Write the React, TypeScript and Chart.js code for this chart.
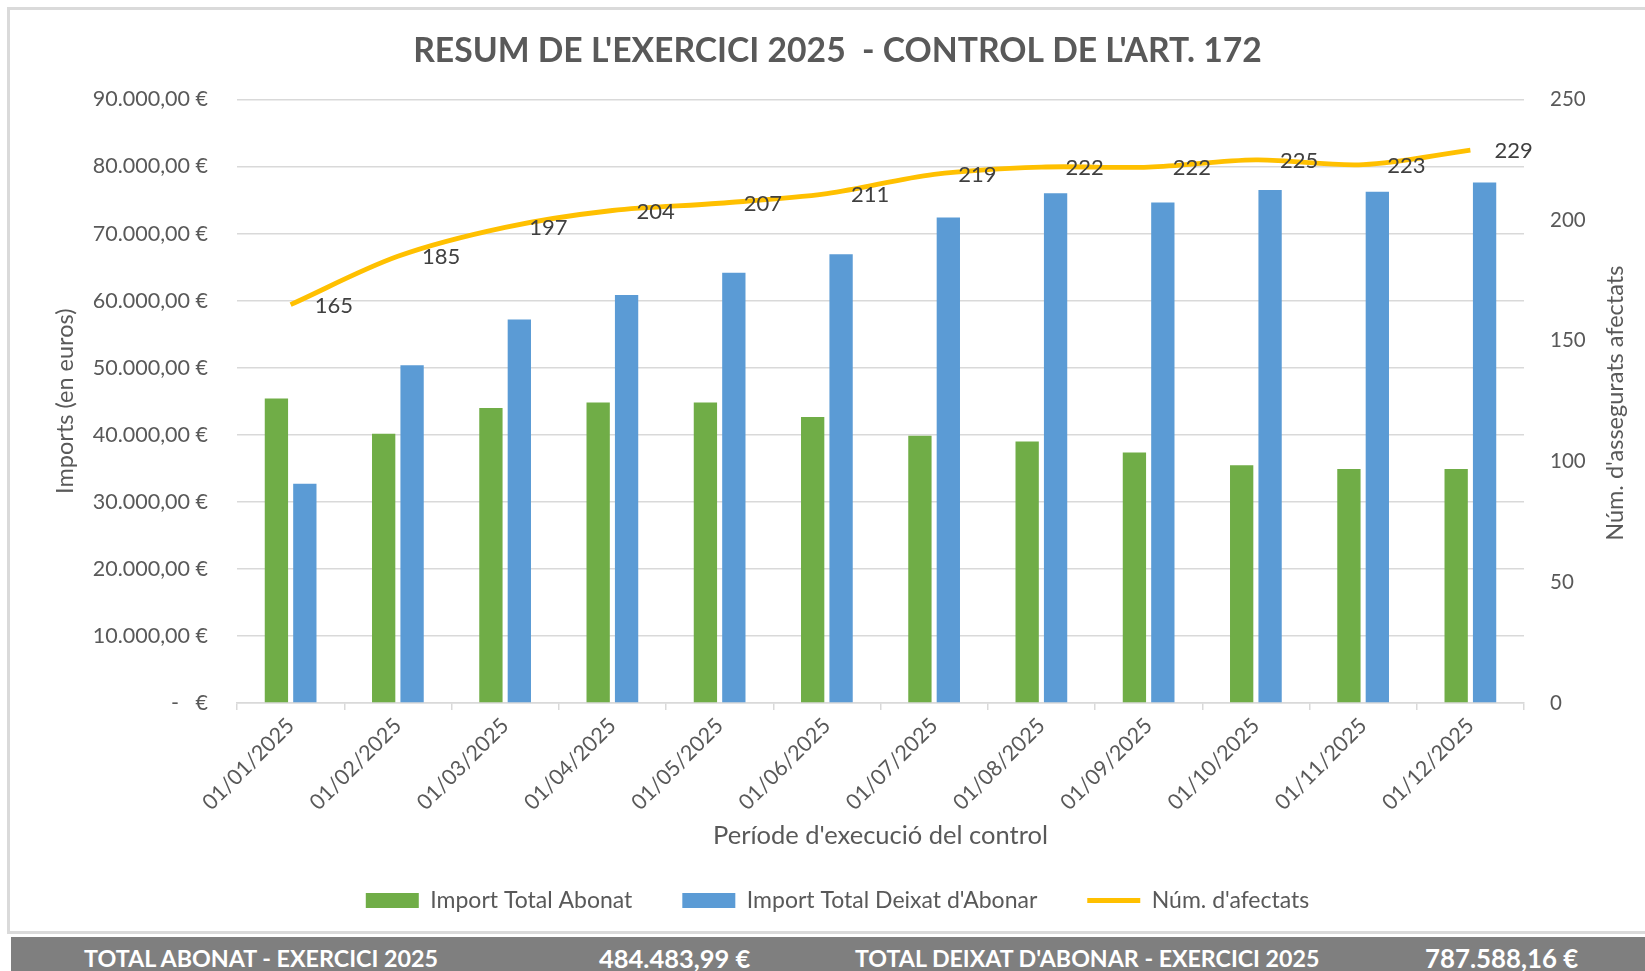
import React, { useEffect, useRef } from "react";
import { Chart, registerables } from "chart.js";

Chart.register(...registerables);

const categories = [
  "01/01/2025", "01/02/2025", "01/03/2025", "01/04/2025", "01/05/2025", "01/06/2025",
  "01/07/2025", "01/08/2025", "01/09/2025", "01/10/2025", "01/11/2025", "01/12/2025",
];
const importAbonat = [45400, 40150, 44000, 44800, 44800, 42650, 39850, 39000, 37350, 35450, 34900, 34900];
const importDeixat = [32700, 50350, 57200, 60850, 64150, 66900, 72400, 76000, 74650, 76500, 76250, 77600];
const numAfectats = [165, 185, 197, 204, 207, 211, 219, 222, 222, 225, 223, 229];

const seriesNames = ["Import Total Abonat", "Import Total Deixat d'Abonar", "Núm. d'afectats"];
const leftAxis = { min: 0, max: 90000, step: 10000 };
const rightAxis = { min: 0, max: 250, step: 50 };

const chartTitle = "RESUM DE L'EXERCICI 2025  - CONTROL DE L'ART. 172";
const leftTitle = "Imports (en euros)";
const rightTitle = "Núm. d'assegurats afectats";
const xTitle = "Període d'execució del control";

const footerItems = [
  "TOTAL ABONAT - EXERCICI 2025",
  "484.483,99 €",
  "TOTAL DEIXAT D'ABONAR - EXERCICI 2025",
  "787.588,16 €",
];

const GREEN = "#70AD47";
const BLUE = "#5B9BD5";
const YELLOW = "#FFC000";
const TEXT = "#595959";
const GRID = "#D9D9D9";
const FONT = "Lato, 'Open Sans', sans-serif";

function fmtEuro(v: number): string {
  if (v === 0) return "-   €";
  const s = Math.round(v).toString().replace(/\B(?=(\d{3})+(?!\d))/g, ".");
  return s + ",00 €";
}

const extrasPlugin = {
  id: "extras",
  afterDatasetsDraw(chart: any) {
    const ctx = chart.ctx;
    const meta = chart.getDatasetMeta(2);
    ctx.save();
    ctx.font = `22px ${FONT}`;
    ctx.fillStyle = "#404040";
    ctx.textAlign = "left";
    ctx.textBaseline = "middle";
    meta.data.forEach((pt: any, i: number) => {
      ctx.fillText(String(numAfectats[i]), pt.x + 24, pt.y + 1);
    });
    const s = chart.scales.y1;
    const ca = chart.chartArea;
    ctx.translate(s.right - 30, (ca.top + ca.bottom) / 2 + 2);
    ctx.rotate(-Math.PI / 2);
    ctx.textAlign = "center";
    ctx.fillStyle = TEXT;
    ctx.font = `23.5px ${FONT}`;
    ctx.fillText(rightTitle, 0, 0);
    ctx.restore();
  },
};

export default function App() {
  const ref = useRef<HTMLCanvasElement | null>(null);

  useEffect(() => {
    if (!ref.current) return;
    const chart = new Chart(ref.current, {
      type: "bar",
      data: {
        labels: categories,
        datasets: [
          {
            type: "bar",
            label: seriesNames[0],
            data: importAbonat,
            backgroundColor: GREEN,
            yAxisID: "y",
            order: 1,
            categoryPercentage: 0.53,
            barPercentage: 0.82,
          },
          {
            type: "bar",
            label: seriesNames[1],
            data: importDeixat,
            backgroundColor: BLUE,
            yAxisID: "y",
            order: 1,
            categoryPercentage: 0.53,
            barPercentage: 0.82,
          },
          {
            type: "line",
            label: seriesNames[2],
            data: numAfectats,
            borderColor: YELLOW,
            backgroundColor: YELLOW,
            borderWidth: 4.8,
            pointRadius: 0,
            tension: 0.33,
            yAxisID: "y1",
            order: 0,
          },
        ],
      } as any,
      options: {
        responsive: false,
        animation: false,
        layout: { padding: { left: 30, right: 0, top: 0, bottom: 8 } },
        plugins: {
          tooltip: { enabled: false },
          title: {
            display: true,
            text: chartTitle,
            color: TEXT,
            font: { family: FONT, size: 33.7, weight: "bold" },
            padding: { top: 31, bottom: 28 },
          },
          legend: {
            position: "bottom",
            labels: {
              usePointStyle: true,
              pointStyleWidth: 53,
              boxHeight: 15,
              padding: 50,
              color: TEXT,
              font: { family: FONT, size: 23 },
              generateLabels: () => [
                { text: seriesNames[0], fillStyle: GREEN, strokeStyle: GREEN, lineWidth: 0, pointStyle: "rect", datasetIndex: 0, fontColor: TEXT },
                { text: seriesNames[1], fillStyle: BLUE, strokeStyle: BLUE, lineWidth: 0, pointStyle: "rect", datasetIndex: 1, fontColor: TEXT },
                { text: seriesNames[2], fillStyle: YELLOW, strokeStyle: YELLOW, lineWidth: 4.8, pointStyle: "line", datasetIndex: 2, fontColor: TEXT },
              ] as any,
            },
          },
        },
        scales: {
          x: {
            offset: true,
            afterFit: (scale: any) => {
              scale.height = 136;
            },
            grid: {
              display: true,
              drawOnChartArea: false,
              drawTicks: true,
              tickLength: 7,
              offset: true,
              color: GRID,
              lineWidth: 1.5,
            },
            border: { display: true, color: GRID, width: 1.5 },
            ticks: {
              autoSkip: false,
              maxRotation: 45,
              minRotation: 45,
              padding: 3,
              color: TEXT,
              font: { family: FONT, size: 21.5 },
            },
            title: {
              display: true,
              text: xTitle,
              color: TEXT,
              font: { family: FONT, size: 25.5 },
              padding: { top: 0, bottom: -12 },
            },
          },
          y: {
            position: "left",
            min: leftAxis.min,
            max: leftAxis.max,
            afterFit: (scale: any) => {
              scale.width = 207;
            },
            grid: { color: GRID, lineWidth: 1.5, drawTicks: false },
            border: { display: false },
            ticks: {
              stepSize: leftAxis.step,
              padding: 29,
              color: TEXT,
              font: { family: FONT, size: 21.5 },
              callback: (v: any) => fmtEuro(Number(v)),
            },
            title: {
              display: true,
              text: leftTitle,
              color: TEXT,
              font: { family: FONT, size: 23.5 },
              padding: { top: 21, bottom: 0 },
            },
          },
          y1: {
            position: "right",
            min: rightAxis.min,
            max: rightAxis.max,
            afterFit: (scale: any) => {
              scale.width = 121;
            },
            grid: { display: false, drawOnChartArea: false, drawTicks: false },
            border: { display: false },
            ticks: {
              stepSize: rightAxis.step,
              padding: 26,
              color: TEXT,
              font: { family: FONT, size: 20.5 },
            },
          },
        },
      } as any,
      plugins: [extrasPlugin],
    });
    const fonts: any = (document as any).fonts;
    if (fonts && fonts.load) {
      Promise.all([fonts.load(`20px Lato`), fonts.load(`bold 20px Lato`)]).then(() => chart.update()).catch(() => {});
    }
    return () => chart.destroy();
  }, []);

  const footerLeft = [84, 599, 855, 1425];
  const footerSize = [23.3, 25.5, 23.2, 25.8];

  return (
    <div
      style={{
        position: "fixed",
        left: 0,
        top: 0,
        width: 1645,
        height: 971,
        background: "#ffffff",
        overflow: "hidden",
        fontFamily: FONT,
      }}
    >
      <div
        style={{
          position: "absolute",
          left: 7,
          top: 7,
          width: 1700,
          height: 927,
          border: "3px solid #DADADA",
          boxSizing: "border-box",
        }}
      />
      <canvas
        ref={ref}
        width={1645}
        height={930}
        style={{ position: "absolute", left: 0, top: 0, width: 1645, height: 930 }}
      />
      <div
        style={{
          position: "absolute",
          left: 11,
          top: 937,
          width: 1700,
          height: 34,
          background: "#7F7F7F",
        }}
      >
        {footerItems.map((t, i) => (
          <span
            key={i}
            style={{
              position: "absolute",
              left: footerLeft[i] - 11,
              top: 4,
              lineHeight: "34px",
              color: "#ffffff",
              fontWeight: 700,
              fontSize: footerSize[i],
              whiteSpace: "pre",
            }}
          >
            {t}
          </span>
        ))}
      </div>
    </div>
  );
}
